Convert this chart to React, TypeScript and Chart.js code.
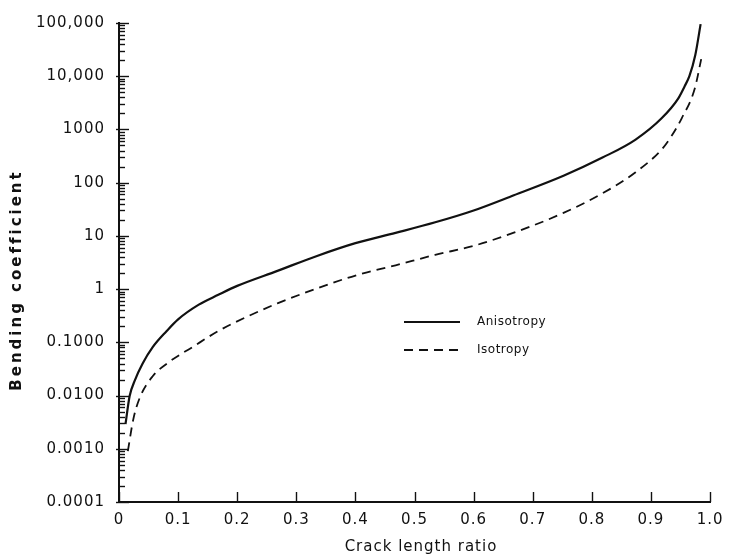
import { useEffect, useRef } from 'react';
import { Chart, registerables } from 'chart.js';

Chart.register(...registerables);

// Anisotropic plate: crack length ratio vs. bending coefficient
const crackRatioAniso = [0.011, 0.018, 0.027, 0.04, 0.057, 0.08, 0.10, 0.135, 0.168, 0.20, 0.268, 0.335, 0.40, 0.468, 0.535, 0.60, 0.668, 0.752, 0.818, 0.874, 0.918, 0.946, 0.957, 0.965, 0.975, 0.984];
const bendingAniso = [0.0029, 0.0098, 0.0195, 0.040, 0.081, 0.16, 0.27, 0.51, 0.78, 1.15, 2.2, 4.2, 7.3, 11.4, 18, 30, 58, 135, 296, 646, 1620, 3800, 6500, 10000, 25000, 95000];

// Isotropic plate
const crackRatioIso = [0.015, 0.024, 0.035, 0.057, 0.085, 0.124, 0.168, 0.213, 0.268, 0.335, 0.40, 0.468, 0.535, 0.60, 0.668, 0.752, 0.818, 0.874, 0.918, 0.935, 0.952, 0.974, 0.985];
const bendingIso = [0.0009, 0.0035, 0.009, 0.023, 0.043, 0.081, 0.163, 0.29, 0.54, 1.03, 1.8, 2.8, 4.4, 6.5, 11.5, 27, 63, 157, 420, 760, 1620, 5800, 21000];

const seriesLabels = ['Anisotropy', 'Isotropy'];
const xTitle = 'Crack length ratio';
const yTitle = 'Bending coefficient';

const xTickLabels = ['0', '0.1', '0.2', '0.3', '0.4', '0.5', '0.6', '0.7', '0.8', '0.9', '1.0'];
const yTickValues = [0.0001, 0.001, 0.01, 0.1, 1, 10, 100, 1000, 10000, 100000];
const yTickLabels = ['0.0001', '0.0010', '0.0100', '0.1000', '1', '10', '100', '1000', '10,000', '100,000'];

const INK = '#111';
const FONT = '"DejaVu Sans", sans-serif';

function yLabelFor(v: number): string {
  const i = yTickValues.findIndex((m) => Math.abs(m - v) / m < 1e-9);
  return i >= 0 ? yTickLabels[i] : '';
}

// inward tick marks, axis titles and the in-plot legend
const decorations = {
  id: 'decorations',
  beforeDraw(chart: any) {
    chart.ctx.letterSpacing = '1px';
  },
  afterDraw(chart: any) {
    const { ctx, chartArea } = chart;
    const xs = chart.scales.x;
    const ys = chart.scales.y;
    ctx.save();
    ctx.strokeStyle = INK;
    ctx.lineWidth = 1.4;
    ys.ticks.forEach((t: any) => {
      const py = Math.round(ys.getPixelForValue(t.value)) + 0.5;
      const major = yLabelFor(t.value) !== '';
      ctx.beginPath();
      ctx.moveTo(chartArea.left - (major ? 3 : 0), py);
      ctx.lineTo(chartArea.left + (major ? 10 : 6), py);
      ctx.stroke();
    });
    xs.ticks.forEach((t: any) => {
      const px = Math.round(xs.getPixelForValue(t.value)) + 0.5;
      ctx.beginPath();
      ctx.moveTo(px, chartArea.bottom);
      ctx.lineTo(px, chartArea.bottom - 10);
      ctx.stroke();
    });

    // axis titles
    ctx.fillStyle = INK;
    ctx.textAlign = 'center';
    ctx.textBaseline = 'middle';
    ctx.font = `15px ${FONT}`;
    ctx.letterSpacing = '1px';
    ctx.fillText(xTitle, 421, 547);
    ctx.save();
    ctx.translate(17, 280);
    ctx.rotate(-Math.PI / 2);
    ctx.font = `bold 15px ${FONT}`;
    ctx.letterSpacing = '3px';
    ctx.fillText(yTitle, 0, 0);
    ctx.restore();

    // legend
    const ds = chart.data.datasets;
    const lx0 = 404, lx1 = 460, tx = 477;
    const rows = [322, 350];
    ds.forEach((d: any, i: number) => {
      ctx.beginPath();
      ctx.lineWidth = d.borderWidth;
      ctx.setLineDash(d.borderDash || []);
      ctx.moveTo(lx0, rows[i]);
      ctx.lineTo(lx1, rows[i]);
      ctx.stroke();
      ctx.setLineDash([]);
      ctx.fillStyle = INK;
      ctx.font = `12px ${FONT}`;
      ctx.letterSpacing = '0.5px';
      ctx.textAlign = 'left';
      ctx.textBaseline = 'middle';
      ctx.fillText(d.label, tx, rows[i]);
    });
    ctx.restore();
    ctx.letterSpacing = '0px';
  },
};

export default function App() {
  const ref = useRef<HTMLCanvasElement>(null);

  useEffect(() => {
    if (!ref.current) return;
    const chart = new Chart(ref.current, {
      type: 'line',
      data: {
        datasets: [
          {
            label: seriesLabels[0],
            data: crackRatioAniso.map((x, i) => ({ x, y: bendingAniso[i] })),
            borderColor: INK,
            borderWidth: 2.2,
            pointRadius: 0,
            cubicInterpolationMode: 'monotone',
            fill: false,
          },
          {
            label: seriesLabels[1],
            data: crackRatioIso.map((x, i) => ({ x, y: bendingIso[i] })),
            borderColor: INK,
            borderWidth: 1.8,
            borderDash: [9, 6],
            pointRadius: 0,
            cubicInterpolationMode: 'monotone',
            fill: false,
          },
        ],
      },
      options: {
        animation: false,
        responsive: false,
        maintainAspectRatio: false,
        layout: { padding: { left: 0, right: 13, top: 14, bottom: 0 } },
        plugins: {
          legend: { display: false },
          tooltip: { enabled: false },
        },
        scales: {
          x: {
            type: 'linear',
            min: 0,
            max: 1,
            grid: { display: false, drawTicks: false },
            border: { display: true, color: INK, width: 2 },
            ticks: {
              stepSize: 0.1,
              color: INK,
              padding: 9,
              font: { family: FONT, size: 15 },
              callback: (v: any) => xTickLabels[Math.round(Number(v) * 10)] ?? '',
            },
            afterFit: (s: any) => {
              s.height = 55;
            },
          },
          y: {
            type: 'logarithmic',
            min: 0.0001,
            max: 100000,
            grid: { display: false, drawTicks: false },
            border: { display: true, color: INK, width: 2 },
            afterBuildTicks: (s: any) => {
              const vals: number[] = [];
              for (let d = -4; d <= 4; d++) {
                for (let k = 1; k <= 9; k++) vals.push(k * Math.pow(10, d));
              }
              vals.push(100000);
              s.ticks = vals.map((value) => ({ value }));
            },
            ticks: {
              autoSkip: false,
              color: INK,
              padding: 14,
              font: { family: FONT, size: 15 },
              callback: (v: any) => yLabelFor(Number(v)),
            },
            afterFit: (s: any) => {
              s.width = 119;
            },
          },
        },
      },
      plugins: [decorations],
    } as any);
    return () => chart.destroy();
  }, []);

  return (
    <div style={{ position: 'fixed', left: 0, top: 0, width: 731, height: 557, background: '#fff' }}>
      <canvas ref={ref} width={731} height={557} />
    </div>
  );
}
